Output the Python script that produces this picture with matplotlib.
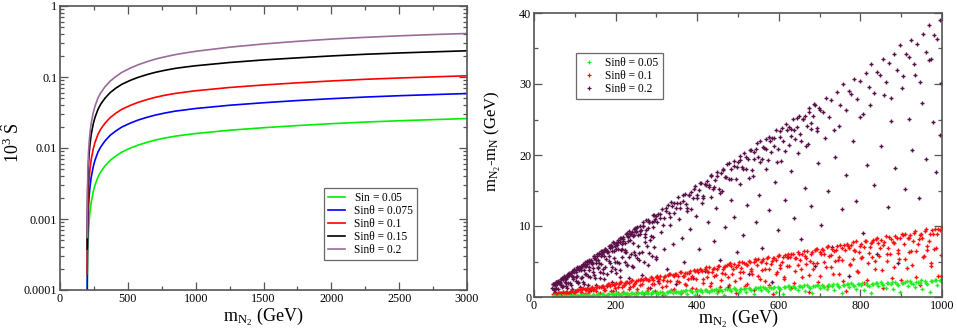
import matplotlib
matplotlib.use("Agg")
import matplotlib.pyplot as plt
from matplotlib.ticker import MultipleLocator, LogLocator, FixedLocator, NullFormatter
from matplotlib.lines import Line2D

plt.rcParams['font.family'] = ['Liberation Serif', 'DejaVu Serif']
plt.rcParams['mathtext.fontset'] = 'custom'
plt.rcParams['mathtext.rm'] = 'Liberation Serif'
plt.rcParams['mathtext.it'] = 'Liberation Serif:italic'
plt.rcParams['mathtext.bf'] = 'Liberation Serif:bold'

# ---------------- left panel data ----------------
m_n2 = [200.5, 202, 205, 210, 215, 221, 230, 245, 258, 280, 300, 332, 370, 410, 455, 520, 577,
        640, 700, 770, 847, 920, 1000, 1250, 1500, 1750, 2000, 2250, 2500, 2750, 3000]
s_005 = [4.2e-5, 1.6e-4, 3.6e-4, 6.6e-4, 9.4e-4, 1.26e-3, 1.72e-3, 2.42e-3, 3.0e-3, 3.9e-3,
         4.6e-3, 5.6e-3, 6.7e-3, 7.7e-3, 8.75e-3, 1.0e-2, 1.1e-2, 1.2e-2, 1.29e-2, 1.38e-2,
         1.465e-2, 1.53e-2, 1.6e-2, 1.78e-2, 1.93e-2, 2.07e-2, 2.2e-2, 2.32e-2, 2.42e-2, 2.51e-2, 2.6e-2]
s_0075 = [9.45e-5, 3.6e-4, 8.1e-4, 1.49e-3, 2.12e-3, 2.84e-3, 3.87e-3, 5.45e-3, 6.75e-3, 8.78e-3,
          1.035e-2, 1.26e-2, 1.51e-2, 1.73e-2, 1.97e-2, 2.25e-2, 2.48e-2, 2.7e-2, 2.9e-2, 3.1e-2,
          3.3e-2, 3.44e-2, 3.6e-2, 4.0e-2, 4.34e-2, 4.66e-2, 4.95e-2, 5.22e-2, 5.45e-2, 5.65e-2, 5.85e-2]
s_01 = [1.68e-4, 6.4e-4, 1.44e-3, 2.64e-3, 3.76e-3, 5.04e-3, 6.88e-3, 9.68e-3, 1.2e-2, 1.56e-2,
        1.84e-2, 2.24e-2, 2.68e-2, 3.08e-2, 3.5e-2, 4.0e-2, 4.4e-2, 4.8e-2, 5.16e-2, 5.52e-2,
        5.86e-2, 6.12e-2, 6.4e-2, 7.12e-2, 7.72e-2, 8.28e-2, 8.8e-2, 9.28e-2, 9.68e-2, 0.1004, 0.104]
s_015 = [3.78e-4, 1.44e-3, 3.24e-3, 5.94e-3, 8.46e-3, 1.13e-2, 1.55e-2, 2.18e-2, 2.7e-2, 3.51e-2,
         4.14e-2, 5.04e-2, 6.03e-2, 6.93e-2, 7.88e-2, 9.0e-2, 9.9e-2, 0.108, 0.116, 0.124, 0.132,
         0.138, 0.144, 0.16, 0.174, 0.186, 0.198, 0.209, 0.218, 0.226, 0.234]
s_02 = [5.5e-4, 2.1e-3, 4.7e-3, 8.6e-3, 1.22e-2, 1.64e-2, 2.24e-2, 3.15e-2, 3.9e-2, 5.07e-2,
        5.98e-2, 7.28e-2, 8.75e-2, 0.101, 0.116, 0.134, 0.149, 0.164, 0.178, 0.192, 0.206, 0.218,
        0.23, 0.263, 0.292, 0.318, 0.342, 0.362, 0.38, 0.396, 0.41]
left_labels = [r'Sin = $\mathit{0.05}$', 'Sinθ = 0.075', 'Sinθ = 0.1', 'Sinθ = 0.15', 'Sinθ = 0.2']
left_colors = ['#00ee00', '#0000ff', '#ff0000', '#000000', '#9b6b9b']
left_yticklabels = ['0.0001', '0.001', '0.01', '0.1', '1']

# ---------------- right panel data ----------------
purple_x = [46, 48, 50, 52, 54, 56, 58, 60, 62, 64, 66, 68, 70, 72, 74, 76, 78, 80, 82, 84, 86, 88, 90, 92,
            94, 96, 98, 100, 102, 104, 106, 108, 110, 112, 114, 116, 118, 120, 122, 124, 126, 128, 130,
            132, 134, 136, 138, 140, 142, 144, 146, 148, 150, 152, 154, 156, 158, 160, 162, 164, 166,
            168, 170, 172, 174, 176, 178, 180, 182, 184, 186, 188, 190, 192, 194, 196, 198, 200, 202,
            204, 206, 208, 210, 212, 214, 216, 218, 220, 222, 224, 226, 228, 230, 232, 234, 236, 238,
            240, 242, 244, 246, 248, 250,
            47, 51, 55, 59, 63, 67, 71, 75, 79, 83, 87, 91, 95, 99, 103, 107, 111, 115, 119, 123, 127,
            131, 135, 139, 143, 147, 151, 155, 159, 163, 167, 171, 175, 179, 183, 187, 191, 195, 199,
            203, 207, 211, 215, 219, 223, 227, 231, 235, 239, 243, 247, 251, 255, 259, 263, 267, 271,
            275, 279, 283, 287, 291, 295, 299,
            45, 48, 51, 54, 57, 60, 63, 66, 69, 72, 75, 78, 81, 84, 87, 90, 93, 96, 99, 102, 105, 108,
            111, 114, 117, 120, 123, 126, 129, 132, 135, 138, 141, 144, 147, 150, 153, 156, 159, 162,
            165, 168, 171, 174, 177, 180, 183, 186, 189, 192, 195, 198, 201, 204, 207, 210, 213, 216,
            219, 222, 225, 228, 231, 234, 237, 240, 243, 246, 249, 252, 255, 258, 261, 264, 267, 270,
            273, 276, 279, 282, 285, 288, 291, 294, 297, 300,
            253, 260, 267, 274, 281, 288, 295, 302, 309, 316, 323, 330, 337, 344, 351, 358, 365, 372,
            379, 386, 393, 400, 407, 414, 421, 428, 435, 442, 449, 456, 463, 470, 477, 484, 491, 498,
            505, 512, 519, 526, 533, 540, 547, 554, 561, 568, 575, 582, 589, 596, 603, 610, 617, 624,
            631, 638, 645, 652, 659, 666, 673, 680, 687, 694, 701, 708, 715, 722, 729, 736, 743, 750,
            757, 764, 771, 778, 785, 792, 799, 806, 813, 820, 827, 834, 841, 848, 855, 862, 869, 876,
            883, 890, 897, 904, 911, 918, 925, 932, 939, 946, 953, 960, 967, 974, 981, 988, 995,
            304, 309, 314, 319, 324, 329, 334, 339, 344, 349, 354, 359, 364, 369, 374, 379, 384, 389,
            394, 399, 404, 409, 414, 419, 424, 429, 434, 439, 444, 449, 454, 459, 464, 469, 474, 479,
            484, 489, 494, 499, 504, 509, 514, 519, 524, 529, 534, 539, 544, 549, 554, 559, 564, 569,
            574, 579, 584, 589, 594, 599, 604, 609, 614, 619, 624, 629, 634, 639, 644, 649, 654, 659,
            664, 669, 674, 679, 684, 689, 694, 699,
            258, 265, 271, 279, 284, 292, 298, 305, 311, 318, 326, 333, 340, 347, 355, 362, 368, 376,
            383, 390, 397, 404, 411, 418, 426, 433, 440, 447, 455, 462, 469, 476, 483, 490, 497, 505,
            513, 521, 528, 536, 544, 552, 560, 568, 575, 583, 591, 598, 606, 614, 622, 630, 638, 646,
            655, 663, 671, 680, 688, 696, 704, 713, 721, 730, 738, 747, 755, 764, 772, 781, 790, 798,
            807, 815, 824, 833, 841, 850, 859, 867, 876, 884, 893, 901, 910, 918, 927, 935, 944, 952,
            961, 969, 978, 986, 994, 998]
purple_y = [1.8, 1.15, 1.84, 0.73, 2.14, 1.79, 2.2, 0.36, 2.18, 1.79, 2.56, 1.36, 2.6, 0.72, 2.93, 2.58,
            2.03, 3.07, 1.31, 3.02, 3.37, 1.94, 3.38, 1.1, 3.65, 2.88, 3.53, 0.8, 3.51, 2.83, 4.2, 1.94,
            4.0, 1.34, 4.42, 3.8, 2.83, 4.56, 1.85, 4.36, 4.99, 3.17, 4.68, 1.74, 5.15, 4.24, 5.13, 1.0,
            4.94, 4.15, 5.72, 3.08, 5.52, 1.7, 6.1, 5.24, 4.17, 6.08, 2.72, 5.84, 6.44, 3.9, 6.32, 2.48,
            6.82, 5.35, 6.48, 1.58, 6.33, 5.08, 7.14, 3.61, 7.07, 2.07, 7.68, 6.51, 4.99, 7.6, 3.31, 7.34,
            8.08, 4.74, 7.73, 2.88, 8.3, 6.83, 7.85, 1.76, 7.64, 6.36, 8.86, 4.56, 8.56, 2.69, 9.27, 8.02,
            6.09, 9.12, 4.16, 8.69, 9.54, 5.85, 9.2,
            1.8, 1.8, 2.18, 2.17, 2.14, 2.6, 2.56, 2.82, 2.59, 3.25, 3.03, 3.39, 2.85, 3.92, 3.75, 4.07,
            4.26, 4.05, 4.71, 4.53, 4.32, 5.08, 4.86, 5.23, 4.69, 5.76, 5.25, 5.77, 4.77, 6.45, 6.08, 6.5,
            6.72, 6.3, 7.25, 6.88, 6.49, 7.57, 7.16, 7.63, 6.79, 8.27, 7.48, 8.15, 6.69, 8.99, 8.41, 8.93,
            9.18, 8.55, 9.78, 9.24, 8.67, 10.05, 9.47, 10.04, 8.89, 10.78, 9.71, 10.53, 8.61, 11.52, 10.74,
            11.36,
            1.26, 0.96, 1.73, 1.3, 2.12, 1.08, 1.97, 1.72, 2.68, 1.58, 2.1, 1.56, 2.75, 2.02, 3.24, 1.62,
            2.9, 2.5, 3.84, 2.24, 2.94, 2.16, 3.77, 2.74, 4.35, 2.16, 3.84, 3.28, 5.0, 2.9, 3.78, 2.76,
            4.79, 3.46, 5.47, 2.7, 4.77, 4.06, 6.17, 3.56, 4.62, 3.36, 5.81, 4.18, 6.58, 3.24, 5.71, 4.84,
            7.33, 4.22, 5.46, 3.96, 6.83, 4.9, 7.7, 3.78, 6.65, 5.62, 8.5, 4.88, 6.3, 4.56, 7.85, 5.62,
            8.82, 4.32, 7.58, 6.4, 9.66, 5.54, 7.14, 5.16, 8.87, 6.34, 9.93, 4.86, 8.52, 7.18, 10.83, 6.2,
            7.98, 5.76, 9.89, 7.06, 11.05, 5.4,
            9.82, 9.36, 10.57, 9.43, 10.57, 10.6, 11.56, 10.63, 11.74, 10.11, 12.53, 11.88, 13.35, 11.83,
            13.2, 13.17, 14.31, 13.09, 14.4, 12.35, 15.25, 14.4, 16.12, 14.24, 15.83, 15.75, 17.05, 15.56,
            17.06, 14.59, 17.96, 16.92, 18.89, 16.65, 18.46, 18.33, 19.8, 18.02, 19.72, 16.83, 20.68,
            19.44, 21.66, 19.06, 21.09, 20.9, 22.54, 20.49, 22.38, 19.07, 23.4, 21.96, 24.43, 21.47, 23.73,
            23.48, 25.28, 22.95, 25.04, 21.31, 26.11, 24.48, 27.21, 23.87, 26.36, 26.05, 28.03, 25.41,
            27.7, 23.55, 28.83, 27.0, 29.98, 26.28, 28.99, 28.63, 30.77, 27.88, 30.36, 25.79, 31.54, 29.52,
            32.75, 28.69, 31.62, 31.21, 33.52, 30.34, 33.02, 28.03, 34.26, 32.04, 35.52, 31.1, 34.25, 33.78,
            36.26, 32.81, 35.68, 30.27, 36.98, 34.56, 38.29, 33.51, 36.89, 36.36, 39.0,
            11.67, 11.12, 12.43, 11.1, 12.05, 12.9, 11.22, 12.88, 13.21, 12.56, 14.02, 12.49, 13.54, 14.46,
            12.57, 14.4, 14.75, 14.0, 15.6, 13.89, 15.03, 16.03, 13.91, 15.92, 16.28, 15.44, 17.19, 15.28,
            16.52, 17.6, 15.25, 17.44, 17.82, 16.88, 18.77, 16.67, 18.0, 19.17, 16.6, 18.96, 19.35, 18.32,
            20.35, 18.06, 19.49, 20.74, 17.94, 20.48, 20.89, 19.76, 21.94, 19.45, 20.98, 22.3, 19.29, 22.0,
            22.43, 21.2, 23.52, 20.85, 22.47, 23.87, 20.63, 23.52, 23.96, 22.64, 25.11, 22.24, 23.96, 25.44,
            21.97, 25.04, 25.5, 24.08, 26.69, 23.63, 25.44, 27.01, 23.32, 26.56,
            6.2, 3.1, 7.8, 4.5, 1.2, 8.4, 5.6, 2.3, 9.1, 6.7, 3.9, 10.2, 7.4, 1.8, 11.0, 8.3, 4.9, 12.1,
            9.6, 2.7, 11.4, 6.8, 13.2, 3.6, 10.5, 14.1, 7.9, 12.6, 5.2, 15.0, 9.8, 1.4, 13.7, 11.2, 6.3,
            15.9, 8.7, 12.9, 3.2, 17.1, 10.6, 14.4, 6.9, 18.0, 12.3, 2.1, 16.2, 9.4, 19.1, 13.6, 5.7, 17.8,
            11.1, 20.3, 8.2, 15.4, 21.6, 12.8, 4.3, 18.9, 10.2, 22.4, 14.9, 7.1, 19.7, 24.1, 12.4, 17.2,
            2.9, 22.0, 13.5, 25.3, 9.0, 18.6, 27.1, 15.8, 6.1, 21.3, 28.4, 12.7, 24.8, 18.1, 4.8, 29.5,
            15.2, 25.1, 20.7, 31.2, 13.9, 27.3, 19.5, 33.4, 24.6, 17.6, 22.8, 30.1]

red_x = [46, 52, 58, 64, 70, 76, 82, 88, 94, 100, 106, 112, 118, 124, 130, 136, 142, 148, 154, 160, 166,
         172, 178, 184, 190, 196, 202, 208, 214, 220, 226, 232, 238, 244, 250, 256, 262, 268, 274, 280,
         286, 292, 298, 304, 310, 316, 322, 328, 334, 340, 346, 352, 358, 364, 370, 376, 382, 388, 394,
         400, 406, 412, 418, 424, 430, 436, 442, 448, 454, 460, 466, 472, 478, 484, 490, 496, 502, 508,
         514, 520, 526, 532, 538, 544, 550, 556, 562, 568, 574, 580, 586, 592, 598, 604, 610, 616, 622,
         628, 634, 640, 646, 652, 658, 664, 670, 676, 682, 688, 694, 700, 706, 712, 718, 724, 730, 736,
         742, 748, 754, 760, 766, 772, 778, 784, 790, 796, 802, 808, 814, 820, 826, 832, 838, 844, 850,
         856, 862, 868, 874, 880, 886, 892, 898, 904, 910, 916, 922, 928, 934, 940, 946, 952, 958, 964,
         970, 976, 982, 988, 994, 999,
         55, 63, 72, 81, 90, 99, 108, 117, 126, 135, 144, 153, 162, 171, 180, 189, 198, 207, 216, 225,
         234, 243, 252, 261, 270, 279, 288, 297, 306, 315, 324, 333, 342, 351, 360, 369, 378, 387, 396,
         405, 414, 423, 432, 441, 450, 459, 468, 477, 486, 495, 504, 513, 522, 531, 540, 549, 558, 567,
         576, 585, 594, 603, 612, 621, 630, 639, 648, 657, 666, 675, 684, 693, 702, 711, 720, 729, 738,
         747, 756, 765, 774, 783, 792, 801, 810, 819, 828, 837, 846, 855, 864, 873, 882, 891, 900, 909,
         918, 927, 936, 945, 954, 963, 972, 981, 990, 998,
         49, 55, 61, 67, 73, 79, 85, 91, 97, 103, 109, 115, 121, 127, 133, 139, 145, 151, 157, 163, 169,
         175, 181, 187, 193, 199, 205, 211, 217, 223, 229, 235, 241, 247, 253, 259, 265, 271, 277, 283,
         289, 295, 301, 307, 313, 319, 325, 331, 337, 343, 349, 355, 361, 367, 373, 379, 385, 391, 397,
         403, 409, 415, 421, 427, 433, 439, 445, 451, 457, 463, 469, 475, 481, 487, 493, 499, 505, 511,
         517, 523, 529, 535, 541, 547, 553, 559, 565, 571, 577, 583, 589, 595, 601, 607, 613, 619, 625,
         631, 637, 643, 649, 655, 661, 667, 673, 679, 685, 691, 697, 703, 709, 715, 721, 727, 733, 739,
         745, 751, 757, 763, 769, 775, 781, 787, 793, 799, 805, 811, 817, 823, 829, 835, 841, 847, 853,
         859, 865, 871, 877, 883, 889, 895, 901, 907, 913, 919, 925, 931, 937, 943, 949, 955, 961, 967,
         973, 979, 985, 991, 997]
red_y = [0.45, 0.47, 0.55, 0.54, 0.69, 0.61, 0.76, 0.77, 0.91, 0.75, 0.98, 1.08, 1.16, 1.12, 1.24, 1.16,
         1.41, 1.18, 1.43, 1.41, 1.61, 1.29, 1.64, 1.77, 1.86, 1.76, 1.92, 1.77, 2.12, 1.76, 2.1, 2.04,
         2.31, 1.83, 2.3, 2.46, 2.57, 2.41, 2.6, 2.38, 2.83, 2.34, 2.77, 2.68, 3.01, 2.37, 2.96, 3.15,
         3.27, 3.06, 3.29, 2.99, 3.54, 2.91, 3.44, 3.31, 3.71, 2.91, 3.62, 3.84, 3.98, 3.71, 3.97, 3.6,
         4.26, 3.49, 4.11, 3.94, 4.4, 3.45, 4.29, 4.53, 4.68, 4.36, 4.66, 4.22, 4.97, 4.06, 4.78, 4.58,
         5.1, 3.99, 4.95, 5.22, 5.39, 5.0, 5.34, 4.83, 5.68, 4.64, 5.45, 5.21, 5.8, 4.53, 5.61, 5.91,
         6.1, 5.65, 6.02, 5.44, 6.4, 5.22, 6.12, 5.84, 6.5, 5.07, 6.27, 6.6, 6.8, 6.3, 6.71, 6.05, 7.11,
         5.79, 6.79, 6.48, 7.2, 5.61, 6.94, 7.3, 7.51, 6.95, 7.39, 6.66, 7.82, 6.37, 7.46, 7.11, 7.9,
         6.15, 7.6, 7.99, 8.21, 7.6, 8.08, 7.28, 8.53, 6.94, 8.13, 7.74, 8.59, 6.69, 8.26, 8.68, 8.92,
         8.24, 8.76, 7.89, 9.25, 7.52, 8.8, 8.38, 9.29, 7.23, 8.92, 9.37, 9.62, 8.89, 9.44, 9.85,
         0.2, 0.35, 0.15, 0.48, 0.3, 0.6, 0.12, 0.55, 0.4, 0.78, 0.25, 0.9, 0.5, 1.05, 0.3, 0.85, 1.2,
         0.6, 1.35, 0.2, 1.1, 1.5, 0.75, 1.7, 0.4, 1.3, 1.9, 0.9, 2.0, 0.3, 1.6, 2.2, 1.1, 2.3, 0.6,
         1.8, 2.5, 1.3, 2.6, 0.2, 2.0, 2.8, 1.5, 3.0, 0.8, 2.4, 3.2, 1.7, 3.3, 0.5, 2.7, 3.5, 1.9, 3.6,
         1.0, 3.0, 3.8, 2.2, 4.0, 0.4, 3.3, 4.1, 2.5, 4.3, 1.2, 3.6, 4.5, 2.8, 4.6, 0.7, 3.9, 4.8, 3.0,
         4.9, 1.6, 4.2, 5.1, 3.3, 5.2, 0.9, 4.5, 5.4, 3.6, 5.5, 2.0, 4.8, 5.7, 3.9, 5.8, 1.3, 5.1, 6.0,
         4.2, 6.2, 2.4, 5.4, 6.3, 4.5, 6.5, 1.7, 5.7, 6.6, 4.8, 6.8, 3.0, 5.9,
         0.46, 0.33, 0.6, 0.55, 0.33, 0.71, 0.6, 0.88, 0.29, 0.89, 1.02, 0.69, 1.2, 1.04, 0.6, 1.25,
         1.02, 1.46, 0.47, 1.4, 1.59, 1.05, 1.79, 1.53, 0.87, 1.79, 1.44, 2.05, 0.65, 1.92, 2.15, 1.41,
         2.39, 2.03, 1.14, 2.33, 1.86, 2.63, 0.83, 2.43, 2.72, 1.77, 2.98, 2.52, 1.41, 2.87, 2.28, 3.21,
         1.01, 2.95, 3.28, 2.13, 3.57, 3.01, 1.68, 3.41, 2.7, 3.79, 1.19, 3.47, 3.84, 2.49, 4.17, 3.5,
         1.95, 3.95, 3.12, 4.37, 1.37, 3.98, 4.41, 2.85, 4.76, 3.99, 2.22, 4.49, 3.54, 4.96, 1.55, 4.5,
         4.97, 3.21, 5.36, 4.49, 2.49, 5.03, 3.96, 5.54, 1.73, 5.01, 5.54, 3.57, 5.95, 4.98, 2.76, 5.57,
         4.38, 6.12, 1.91, 5.53, 6.1, 3.93, 6.54, 5.47, 3.03, 6.11, 4.8, 6.7, 2.09, 6.05, 6.66, 4.29,
         7.14, 5.96, 3.3, 6.65, 5.22, 7.28, 2.27, 6.56, 7.23, 4.65, 7.73, 6.45, 3.57, 7.19, 5.64, 7.87,
         2.45, 7.08, 7.79, 5.01, 8.33, 6.95, 3.84, 7.73, 6.06, 8.45, 2.63, 7.59, 8.36, 5.37, 8.92, 7.44,
         4.11, 8.27, 6.48, 9.03, 2.81, 8.11, 8.92, 5.73, 9.51, 7.93, 4.38, 8.81, 6.9, 9.61, 2.99]

green_x = [46, 52, 58, 64, 70, 76, 82, 88, 94, 100, 106, 112, 118, 124, 130, 136, 142, 148, 154, 160,
           166, 172, 178, 184, 190, 196, 202, 208, 214, 220, 226, 232, 238, 244, 250, 256, 262, 268, 274,
           280, 286, 292, 298, 304, 310, 316, 322, 328, 334, 340, 346, 352, 358, 364, 370, 376, 382, 388,
           394, 400, 406, 412, 418, 424, 430, 436, 442, 448, 454, 460, 466, 472, 478, 484, 490, 496, 502,
           508, 514, 520, 526, 532, 538, 544, 550, 556, 562, 568, 574, 580, 586, 592, 598, 604, 610, 616,
           622, 628, 634, 640, 646, 652, 658, 664, 670, 676, 682, 688, 694, 700, 706, 712, 718, 724, 730,
           736, 742, 748, 754, 760, 766, 772, 778, 784, 790, 796, 802, 808, 814, 820, 826, 832, 838, 844,
           850, 856, 862, 868, 874, 880, 886, 892, 898, 904, 910, 916, 922, 928, 934, 940, 946, 952, 958,
           964, 970, 976, 982, 988, 994, 999,
           49, 61, 73, 85, 97, 109, 121, 133, 145, 157, 169, 181, 193, 205, 217, 229, 241, 253, 265, 277,
           289, 301, 313, 325, 337, 349, 361, 373, 385, 397, 409, 421, 433, 445, 457, 469, 481, 493, 505,
           517, 529, 541, 553, 565, 577, 589, 601, 613, 625, 637, 649, 661, 673, 685, 697, 709, 721, 733,
           745, 757, 769, 781, 793, 805, 817, 829, 841, 853, 865, 877, 889, 901, 913, 925, 937, 949, 961,
           973, 985, 997]
green_y = [0.11, 0.09, 0.14, 0.13, 0.11, 0.17, 0.17, 0.11, 0.23, 0.19, 0.08, 0.25, 0.28, 0.22, 0.32,
           0.27, 0.21, 0.34, 0.33, 0.2, 0.4, 0.32, 0.13, 0.41, 0.45, 0.34, 0.5, 0.42, 0.32, 0.51, 0.48,
           0.29, 0.58, 0.46, 0.19, 0.58, 0.62, 0.47, 0.68, 0.56, 0.43, 0.67, 0.63, 0.38, 0.75, 0.59, 0.24,
           0.74, 0.79, 0.6, 0.86, 0.7, 0.54, 0.84, 0.79, 0.47, 0.93, 0.73, 0.3, 0.9, 0.96, 0.72, 1.03,
           0.85, 0.65, 1.0, 0.94, 0.56, 1.1, 0.86, 0.35, 1.06, 1.14, 0.85, 1.21, 0.99, 0.75, 1.17, 1.09,
           0.65, 1.28, 1.0, 0.4, 1.22, 1.31, 0.97, 1.39, 1.14, 0.86, 1.33, 1.25, 0.74, 1.45, 1.13, 0.46,
           1.39, 1.48, 1.1, 1.57, 1.28, 0.97, 1.5, 1.4, 0.83, 1.62, 1.27, 0.51, 1.55, 1.65, 1.23, 1.75,
           1.42, 1.08, 1.67, 1.55, 0.92, 1.8, 1.4, 0.57, 1.71, 1.82, 1.35, 1.93, 1.57, 1.19, 1.83, 1.7,
           1.01, 1.97, 1.54, 0.62, 1.87, 1.99, 1.48, 2.1, 1.71, 1.29, 2.0, 1.86, 1.1, 2.15, 1.67, 0.67,
           2.03, 2.16, 1.6, 2.28, 1.86, 1.4, 2.16, 2.01, 1.19, 2.32, 1.81, 0.73, 2.2, 2.33, 1.73, 2.46, 2.5,
           0.12, 0.13, 0.17, 0.21, 0.21, 0.25, 0.29, 0.29, 0.34, 0.39, 0.36, 0.41, 0.47, 0.45, 0.5, 0.57,
           0.51, 0.57, 0.64, 0.61, 0.67, 0.74, 0.67, 0.73, 0.82, 0.77, 0.84, 0.92, 0.82, 0.89, 0.99, 0.93,
           1.01, 1.1, 0.97, 1.06, 1.17, 1.08, 1.17, 1.28, 1.12, 1.22, 1.34, 1.24, 1.34, 1.46, 1.28, 1.38,
           1.52, 1.4, 1.51, 1.64, 1.43, 1.54, 1.69, 1.56, 1.68, 1.81, 1.58, 1.7, 1.86, 1.72, 1.84, 1.99,
           1.74, 1.87, 2.04, 1.88, 2.01, 2.17, 1.89, 2.03, 2.21, 2.04, 2.18, 2.35, 2.04, 2.19, 2.39, 2.19]

right_labels = ['Sinθ = 0.05', 'Sinθ = 0.1', 'Sinθ = 0.2']
right_colors = ['#22ee22', '#ff1010', '#5a1048']

# ---------------- figure ----------------
fig = plt.figure(figsize=(9.57, 3.36), dpi=100)
axL = fig.add_axes([60/957, 46/336, 407/957, 284/336])
axR = fig.add_axes([534/957, 39/336, 408/957, 284/336])

spine_c = '#555555'
tick_fs = 8.7

# left
series = [s_005, s_0075, s_01, s_015, s_02]
handlesL = []
for vals, lab, col in zip(series, left_labels, left_colors):
    h, = axL.plot(m_n2, vals, color=col, lw=1.2, label=lab)
    handlesL.append(h)
axL.set_yscale('log')
axL.set_xlim(0, 3000)
axL.set_ylim(1e-4, 1)
axL.xaxis.set_major_locator(MultipleLocator(500))
axL.xaxis.set_minor_locator(MultipleLocator(250))
axL.yaxis.set_major_locator(FixedLocator([1e-4, 1e-3, 1e-2, 1e-1, 1]))
axL.set_yticklabels(left_yticklabels)
axL.yaxis.set_minor_locator(LogLocator(base=10, subs=[2, 3, 4, 5, 6, 7, 8, 9]))
axL.yaxis.set_minor_formatter(NullFormatter())
axL.set_xlabel(r'$\mathrm{m}_{\mathrm{N}_2}$ (GeV)', fontsize=13, labelpad=1)
axL.set_ylabel(r'$10^3\ \hat{\mathrm{S}}$', fontsize=13)
axL.yaxis.set_label_coords(-0.091, 0.52)
legL = axL.legend(handles=handlesL, loc='upper left', bbox_to_anchor=(0.649, 0.359),
                  borderaxespad=0, fontsize=8.3, frameon=True, fancybox=False,
                  edgecolor='#444444', handlelength=1.5, handletextpad=0.7,
                  labelspacing=0.08, borderpad=0.35)
legL.get_frame().set_linewidth(0.9)

# right
mk = dict(linestyle='none', marker='+', ms=3.3, mew=1.0)
axR.plot(purple_x, purple_y, color=right_colors[2], **mk)
axR.plot(red_x, red_y, color=right_colors[1], **mk)
axR.plot(green_x, green_y, color=right_colors[0], **mk)
axR.set_xlim(0, 1000)
axR.set_ylim(0, 40)
axR.xaxis.set_major_locator(MultipleLocator(200))
axR.xaxis.set_minor_locator(MultipleLocator(100))
axR.yaxis.set_major_locator(MultipleLocator(10))
axR.yaxis.set_minor_locator(MultipleLocator(5))
axR.set_xlabel(r'$\mathrm{m}_{\mathrm{N}_2}$ (GeV)', fontsize=13, labelpad=-3)
axR.set_ylabel(r'$\mathrm{m}_{\mathrm{N}_2}$-$\mathrm{m}_{\mathrm{N}}$ (GeV)', fontsize=12)
axR.yaxis.set_label_coords(-0.076, 0.55)
hs = [Line2D([], [], linestyle='none', marker='+', ms=3, mew=0.9, color=c) for c in right_colors]
legR = axR.legend(handles=hs, labels=right_labels, loc='upper left', bbox_to_anchor=(0.103, 0.859),
                  borderaxespad=0, fontsize=8.3, frameon=True, fancybox=False,
                  edgecolor='#444444', handlelength=1.5, handletextpad=0.7,
                  labelspacing=0.08, borderpad=0.35)
legR.get_frame().set_linewidth(0.9)

for ax in (axL, axR):
    for sp in ax.spines.values():
        sp.set_color(spine_c)
        sp.set_linewidth(1.2)
    ax.tick_params(which='both', direction='in', top=True, right=True, colors=spine_c,
                   labelcolor='black', labelsize=tick_fs, width=0.9)
    ax.tick_params(which='major', length=6, pad=2)
    ax.tick_params(which='minor', length=3)

fig.savefig('out.png', dpi=100)
